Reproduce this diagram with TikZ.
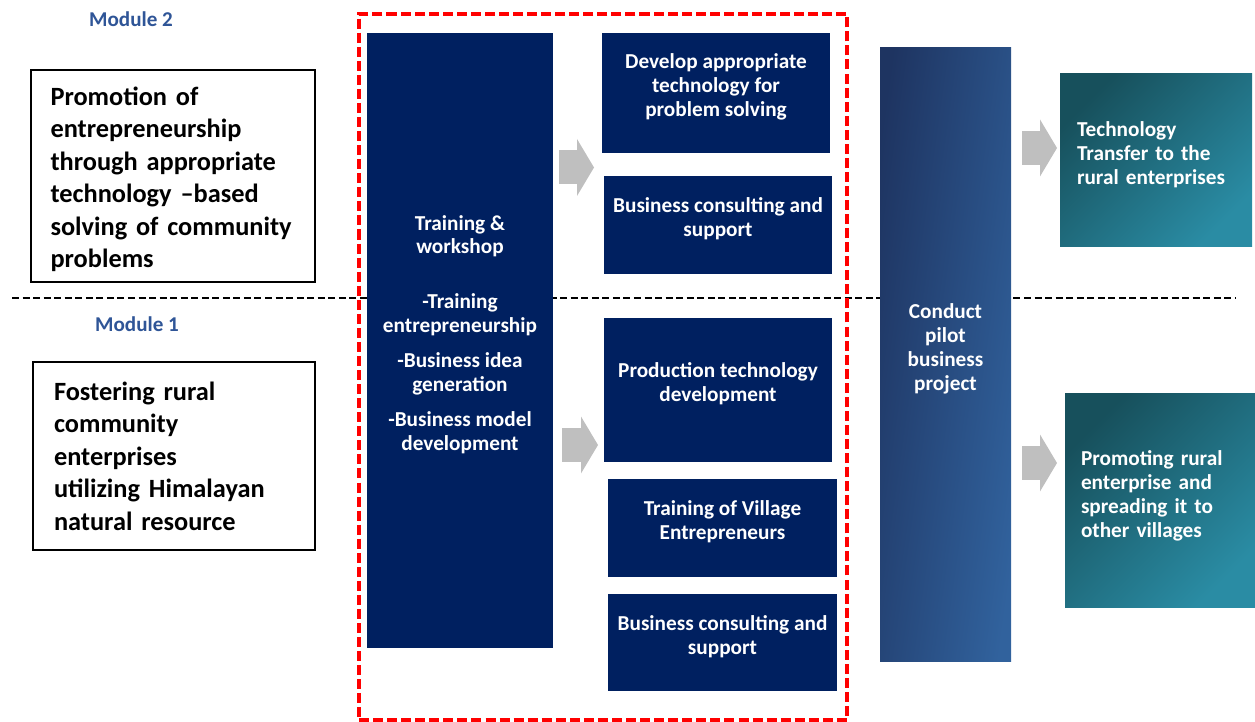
\documentclass[tikz,border=0pt]{standalone}
\usepackage{fontspec}
\setmainfont{Carlito}
\usepackage{xcolor}
\usepackage{tikz}
\usetikzlibrary{arrows.meta}

\newlength{\pu}
\setlength{\pu}{0.02cm}

\definecolor{navy}{HTML}{002060}
\definecolor{modblue}{HTML}{2F5597}
\definecolor{arrowgray}{HTML}{BFBFBF}
\definecolor{pilottop}{HTML}{1E3461}
\definecolor{pilotbot}{HTML}{31629D}
\definecolor{tealtop}{HTML}{17505C}
\definecolor{tealbot}{HTML}{2A8CA4}

\begin{document}
\begin{tikzpicture}[x=0.02cm, y=-0.02cm]
      \tikzstyle{module} = [text=modblue, font=\fontsize{12}{14}\selectfont\bfseries]
      \tikzstyle{goal} = [draw=black, line width=1.1pt, align=left, text width=245\pu, font=\fontsize{15}{18.5}\selectfont\bfseries]
      \tikzstyle{navybox} = [fill=navy, text=white, align=center, inner sep=2pt, text depth=9pt, font=\fontsize{12.1}{13.6}\selectfont\bfseries]
      \tikzstyle{result} = [text=white, align=left, text width=158\pu, top color=tealtop, bottom color=tealbot, shading angle=45, font=\fontsize{12.1}{13.6}\selectfont\bfseries]
      \tikzstyle{block} = [arrowgray, line width=0.68cm, -{Triangle[width=1.14cm, length=0.34cm, line width=0pt]}]
      \tikzstyle{divider} = [black, line width=1.1pt, dash pattern=on 4pt off 2pt]

      \useasboundingbox (0,0) rectangle (1255,722);

      \coordinate (divL) at (12,298);
      \coordinate (divR) at (1235,298);
      \draw[divider] (divL) -- (divR);

      \node[module] (mod2) at (131,19) {Module 2};
      \node[module] (mod1) at (137,324) {Module 1};

      \node[goal, text depth=91pt, minimum width=284\pu, minimum height=212\pu] (promo) at (173,176)
        {Promotion of\\ entrepreneurship\\ through appropriate\\ technology --based\\ solving of community\\ problems};
      \node[goal, text width=240\pu, minimum width=282\pu, minimum height=188\pu] (foster) at (174,456)
        {Fostering rural\\ community\\ enterprises\\ utilizing Himalayan\\ natural resource};

      \node[draw=red, line width=2pt, dash pattern=on 5.7pt off 2.3pt, minimum width=488\pu, minimum height=706\pu] (group) at (603,367) {};

      \node[navybox, minimum width=186\pu, minimum height=615\pu] (train) at (460,340.5)
        {Training \&\\ workshop\\[17.6pt] -Training\\ entrepreneurship\\[6.2pt] -Business idea\\ generation\\[6.2pt] -Business model\\ development};

      \node[navybox, minimum width=228\pu, minimum height=120\pu] (tech) at (716,93)
        {Develop appropriate\\ technology for\\ problem solving};
      \node[navybox, minimum width=228\pu, minimum height=98\pu] (cons1) at (718,225)
        {Business consulting and\\ support};
      \node[navybox, minimum width=228\pu, minimum height=144\pu] (prod) at (718,390)
        {Production technology\\ development};
      \node[navybox, minimum width=229\pu, minimum height=98\pu] (village) at (722.5,528)
        {Training of Village\\ Entrepreneurs};
      \node[navybox, minimum width=229\pu, minimum height=97\pu] (cons2) at (722.5,642.5)
        {Business consulting and\\ support};

      \node[navybox, top color=pilottop, bottom color=pilotbot, shading angle=82, minimum width=131\pu, minimum height=614\pu] (pilot) at (945.5,355)
        {Conduct\\ pilot\\ business\\ project};

      \node[result, text depth=35.3pt, minimum width=192\pu, minimum height=173\pu] (transfer) at (1156,160.5)
        {Technology\\ Transfer to the\\ rural enterprises};
      \node[result, text depth=48.9pt, minimum width=190\pu, minimum height=214\pu] (spread) at (1160,501)
        {Promoting rural\\ enterprise and\\ spreading it to\\ other villages};

      \coordinate (a1) at (559,167.5);
      \coordinate (b1) at (594,167.5);
      \coordinate (a2) at (562,445);
      \coordinate (b2) at (598,445);
      \coordinate (a3) at (1022,148);
      \coordinate (b3) at (1057,148);
      \coordinate (a4) at (1022,463);
      \coordinate (b4) at (1057,463);
      \draw[block] (a1) -- (b1);
      \draw[block] (a2) -- (b2);
      \draw[block] (a3) -- (b3);
      \draw[block] (a4) -- (b4);
    \end{tikzpicture}
\end{document}
